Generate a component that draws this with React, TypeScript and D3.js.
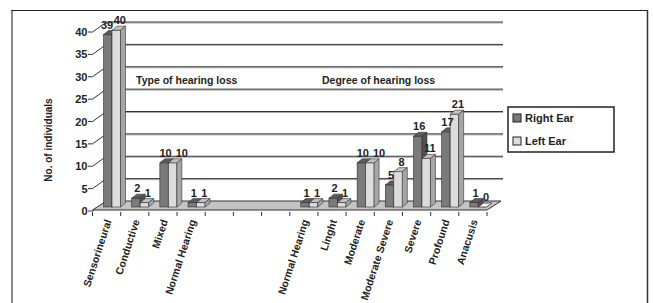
import React from "react";
import * as d3 from "d3";

const categories = ["Sensorineural", "Conductive", "Mixed", "Normal Hearing", "", "", "", "Normal Hearing", "Linght", "Moderate", "Moderate Severe", "Severe", "Profound", "Anacusis"];
const rightEar: (number | null)[] = [39, 2, 10, 1, null, null, null, 1, 2, 10, 5, 16, 17, 1];
const leftEar: (number | null)[] = [40, 1, 10, 1, null, null, null, 1, 1, 10, 8, 11, 21, 0];
const yTicks = [0, 5, 10, 15, 20, 25, 30, 35, 40];
const seriesNames = ["Right Ear", "Left Ear"];
const groupTitles = ["Type of hearing loss", "Degree of hearing loss"];
const yTitle = "No. of individuals";

const FONT = "'Liberation Sans', Arial, sans-serif";
const W = 653, H = 303;
const DX = 14, DY = -10; // floor depth
const BDX = 5, BDY = -4; // bar depth

const colors = [
  { front: "#7a7a7a", top: "#5c5c5c", side: "#505050" },
  { front: "#dcdcdc", top: "#c2c2c2", side: "#a6a6a6" },
];

type LabelInfo = { x: number; y: number; w: number; v: number; key: string };

export default function App() {
  const x = d3.scaleBand<number>().domain(d3.range(categories.length)).range([92.5, 487]).paddingInner(0).paddingOuter(0);
  const yAxis = d3.scaleLinear().domain([0, 40]).range([211, 32]);
  const yBar = d3.scaleLinear().domain([0, 40]).range([211, 34.2]);
  const bw = 8.5;
  const barOffsets = [11, 19.5];
  const x0 = x.range()[0], x1 = x.range()[1];
  const charW = 6.1;

  const bars: JSX.Element[] = [];
  const labelInfos: LabelInfo[] = [];
  categories.forEach((_, i) => {
    const local: LabelInfo[] = [];
    [rightEar, leftEar].forEach((series, s) => {
      const v = series[i];
      if (v === null || v === undefined) return;
      const bx = (x(i) as number) + barOffsets[s];
      const yb = yBar(0) - 4;
      const yt = yBar(v) - 4;
      const c = colors[s];
      const topPts = [[bx, yt], [bx + bw, yt], [bx + bw + BDX, yt + BDY], [bx + BDX, yt + BDY]];
      if (v > 0) {
        bars.push(
          <g key={`b${i}-${s}`}>
            <rect x={bx} y={yt} width={bw} height={yb - yt} fill={c.front} stroke="#333" strokeWidth={0.6} />
            <polygon points={topPts.map(p => p.join(",")).join(" ")} fill={c.top} stroke="#333" strokeWidth={0.6} />
            <polygon points={[[bx + bw, yt], [bx + bw + BDX, yt + BDY], [bx + bw + BDX, yb + BDY], [bx + bw, yb]].map(p => p.join(",")).join(" ")} fill={c.side} stroke="#333" strokeWidth={0.6} />
          </g>
        );
      } else {
        bars.push(
          <polygon key={`b${i}-${s}`} points={topPts.map(p => p.join(",")).join(" ")} fill="#f4f4f4" stroke="#333" strokeWidth={0.8} />
        );
      }
      const w = String(v).length * charW;
      const lx = bx + bw / 2 + (s === 0 ? 1.5 : 3.5);
      const ly = yt + BDY - 2;
      local.push({ x: lx, y: ly, w, v, key: `l${i}-${s}` });
    });
    if (local.length === 2) {
      const [a, b] = local;
      const overlapX = b.x - b.w / 2 < a.x + a.w / 2 + 3;
      if (overlapX && Math.abs(a.y - b.y) < 3) {
        b.x = a.x + a.w / 2 + 4 + b.w / 2;
      } else if (overlapX && Math.abs(a.y - b.y) < 11) {
        a.x = b.x - b.w / 2 - a.w / 2 - 0.5;
      }
    }
    labelInfos.push(...local);
  });

  return (
    <svg width={W} height={H} style={{ position: "absolute", left: 0, top: 0, background: "#fff" }}>
      {/* outer frame */}
      <line x1={12} y1={10} x2={12} y2={H} stroke="#8a8a8a" strokeWidth={2} />
      <line x1={11} y1={10.5} x2={648} y2={10.5} stroke="#222" strokeWidth={1} />
      <line x1={647.5} y1={10} x2={647.5} y2={H} stroke="#333" strokeWidth={1.5} />

      {/* gridlines: side wall diagonals + back wall */}
      {yTicks.map(t => (
        <g key={`g${t}`}>
          <line x1={88} y1={yAxis(t)} x2={x0} y2={yAxis(t)} stroke="#333" strokeWidth={1} />
          <line x1={x0} y1={yAxis(t)} x2={x0 + DX} y2={yAxis(t) + DY} stroke="#333" strokeWidth={1} />
          {t > 0 && <line x1={x0 + DX} y1={yAxis(t) + DY + 1} x2={x1 + DX + 2} y2={yAxis(t) + DY + 1} stroke="#aaa" strokeWidth={1} />}
          {t > 0 && <line x1={x0 + DX} y1={yAxis(t) + DY} x2={x1 + DX + 2} y2={yAxis(t) + DY} stroke="#333" strokeWidth={1} />}
          <text x={87.5} y={yAxis(t) + 4} textAnchor="end" fontFamily={FONT} fontWeight="bold" fontSize={11} fill="#222">{t}</text>
        </g>
      ))}

      {/* floor */}
      <polygon points={`${x0},${yAxis(0) - 1} ${x1},${yAxis(0) - 1} ${x1 + DX},${yAxis(0) + DY} ${x0 + DX},${yAxis(0) + DY}`} fill="#c4c4c4" stroke="#333" strokeWidth={1} />

      {/* category ticks */}
      {d3.range(categories.length + 1).map(i => {
        const tx = i < categories.length ? (x(i) as number) : x1;
        return <line key={`t${i}`} x1={tx} y1={212} x2={tx} y2={216} stroke="#333" strokeWidth={1} />;
      })}

      {bars}
      {labelInfos.map(l => (
        <text key={l.key} x={l.x} y={l.y} textAnchor="middle" fontFamily={FONT} fontWeight="bold" fontSize={11} fill="#222">{l.v}</text>
      ))}

      {/* group titles */}
      <text x={136} y={84} fontFamily={FONT} fontWeight="bold" fontSize={10.5} fill="#222">{groupTitles[0]}</text>
      <text x={322} y={84} fontFamily={FONT} fontWeight="bold" fontSize={10.5} fill="#222">{groupTitles[1]}</text>

      {/* x labels */}
      {categories.map((c, i) => {
        const cx = (x(i) as number) + x.bandwidth() / 2 + 5;
        const cy = 221;
        return c ? (
          <text key={`x${i}`} x={cx} y={cy} transform={`rotate(-72 ${cx} ${cy})`} textAnchor="end" fontFamily={FONT} fontWeight="bold" fontSize={10.5} fill="#222">{c}</text>
        ) : null;
      })}

      {/* y title */}
      <text x={0} y={0} transform={`translate(52,140) rotate(-90)`} textAnchor="middle" fontFamily={FONT} fontWeight="bold" fontSize={10} fill="#222">{yTitle}</text>

      {/* legend */}
      <rect x={508} y={107} width={106} height={45} fill="#fff" stroke="#222" strokeWidth={1.5} />
      {seriesNames.map((n, s) => (
        <g key={`lg${s}`}>
          <rect x={513} y={114 + s * 23} width={8} height={8} fill={colors[s].front} stroke="#222" strokeWidth={1} />
          <text x={525} y={122 + s * 23} fontFamily={FONT} fontWeight="bold" fontSize={11} fill="#222">{n}</text>
        </g>
      ))}
    </svg>
  );
}
